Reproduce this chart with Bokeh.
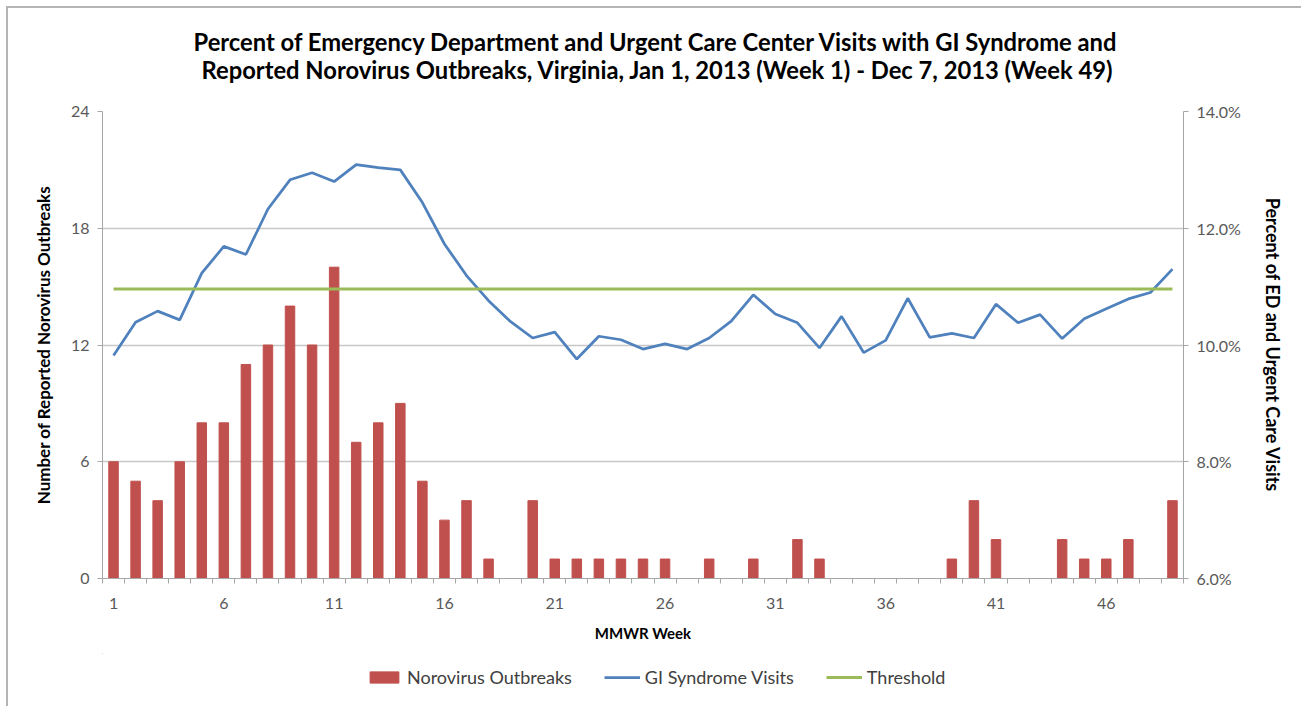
from bokeh.plotting import figure
from bokeh.models import (Range1d, LinearAxis, FixedTicker, PrintfTickFormatter,
                          Legend, LegendItem, Label)
from bokeh.layouts import column
from bokeh.embed import file_html
from bokeh.resources import INLINE

# ---------------- data ----------------
weeks = list(range(1, 50))
outbreaks = [6, 5, 4, 6, 8, 8, 11, 12, 14, 12,
             16, 7, 8, 9, 5, 3, 4, 1, 0, 4,
             1, 1, 1, 1, 1, 1, 0, 1, 0, 1,
             0, 2, 1, 0, 0, 0, 0, 0, 1, 4,
             2, 0, 0, 2, 1, 1, 2, 0, 4]
gi_pct = [9.82, 10.39, 10.58, 10.43, 11.23, 11.69, 11.55, 12.33, 12.83, 12.95,
          12.80, 13.09, 13.04, 13.00, 12.44, 11.73, 11.19, 10.76, 10.40, 10.12,
          10.22, 9.76, 10.15, 10.09, 9.93, 10.02, 9.93, 10.12, 10.41, 10.86,
          10.53, 10.38, 9.95, 10.49, 9.87, 10.08, 10.80, 10.13, 10.20, 10.12,
          10.70, 10.38, 10.52, 10.11, 10.45, 10.62, 10.79, 10.90, 11.30]
threshold_pct = 10.96
x_tick_labels = [1, 6, 11, 16, 21, 26, 31, 36, 41, 46]
left_ticks = [0, 6, 12, 18, 24]
right_ticks = [6, 8, 10, 12, 14]
title_lines = ["Percent of Emergency Department and Urgent Care Center Visits with GI Syndrome and",
               "Reported Norovirus Outbreaks, Virginia, Jan 1, 2013 (Week 1) - Dec 7, 2013 (Week 49)"]
legend_labels = ["Norovirus Outbreaks", "GI Syndrome Visits", "Threshold"]

FONT = "Lato"
RED, BLUE, GREEN = "#C0504D", "#4F81BD", "#9BBB59"
AXIS_C, GRID_C, TXT_C = "#a6a6a6", "#c8c8c8", "#595959"
W = 1293


def blank(height, y0, y1):
    # the column aligns this strip's frame with the chart frame (page x 102..1183)
    f = figure(width=W, height=height, output_backend="svg", toolbar_location=None,
               x_axis_type=None, y_axis_type=None,
               x_range=Range1d(102, 1183), y_range=Range1d(y1, y0),
               min_border_left=0, min_border_right=0, min_border_top=0, min_border_bottom=0)
    f.outline_line_color = None
    f.grid.grid_line_color = None
    f.background_fill_color = "white"
    f.border_fill_color = "white"
    return f


# ---------------- header (title) ----------------
head = blank(90, 8, 98)
for line, tx, ty in zip(title_lines, [193, 201], [41, 69]):
    head.add_layout(Label(x=tx, y=ty, text=line, text_align="left", text_baseline="middle",
                          text_font=FONT, text_font_size="23.75px", text_font_style="bold",
                          text_color="black"))

# ---------------- main chart ----------------
p = figure(width=W, height=555, output_backend="svg", toolbar_location=None,
           x_range=Range1d(0.5, 49.5), y_range=Range1d(0, 24),
           min_border_left=94, min_border_right=118, min_border_top=13,
           min_border_bottom=75)
p.outline_line_color = None
p.background_fill_color = "white"
p.border_fill_color = "white"
p.extra_y_ranges = {"pct": Range1d(6, 14)}

p.vbar(x=weeks, top=outbreaks, width=0.43, fill_color=RED, line_color=RED)
p.line(x=weeks, y=gi_pct, y_range_name="pct", line_color=BLUE, line_width=2.75)
p.line(x=[weeks[0], weeks[-1]], y=[threshold_pct, threshold_pct], y_range_name="pct",
       line_color=GREEN, line_width=3)

xa = p.xaxis[0]
xa.ticker = FixedTicker(ticks=x_tick_labels, minor_ticks=[w - 0.5 for w in weeks] + [weeks[-1] + 0.5])
xa.major_tick_out = 0
xa.major_tick_in = 0
xa.minor_tick_out = 5
xa.minor_tick_in = 0
xa.minor_tick_line_color = AXIS_C
xa.axis_line_color = AXIS_C
xa.major_label_standoff = 14
xa.major_label_text_font = FONT
xa.major_label_text_font_size = "16px"
xa.major_label_text_color = TXT_C
xa.axis_label = "MMWR Week"
xa.axis_label_text_font = FONT
xa.axis_label_text_font_size = "15px"
xa.axis_label_text_font_style = "bold"
xa.axis_label_text_color = "black"
xa.axis_label_standoff = 12

ya = p.yaxis[0]
ya.ticker = FixedTicker(ticks=left_ticks)
ya.minor_tick_out = 0
ya.minor_tick_in = 0
ya.major_tick_out = 5
ya.major_tick_in = 0
ya.major_tick_line_color = AXIS_C
ya.axis_line_color = AXIS_C
ya.major_label_standoff = 8
ya.major_label_text_font = FONT
ya.major_label_text_font_size = "16px"
ya.major_label_text_color = TXT_C
ya.axis_label = "Number of Reported Norovirus Outbreaks"
ya.axis_label_text_font = FONT
ya.axis_label_text_font_size = "17px"
ya.axis_label_text_font_style = "bold"
ya.axis_label_text_color = "black"
ya.axis_label_standoff = 14

ra = LinearAxis(y_range_name="pct", ticker=FixedTicker(ticks=right_ticks),
                formatter=PrintfTickFormatter(format="%.1f%%"))
ra.minor_tick_out = 0
ra.minor_tick_in = 0
ra.major_tick_out = 5
ra.major_tick_in = 0
ra.major_tick_line_color = AXIS_C
ra.axis_line_color = AXIS_C
ra.major_label_standoff = 8
ra.major_label_text_font = FONT
ra.major_label_text_font_size = "16px"
ra.major_label_text_color = TXT_C
ra.axis_label = "Percent of ED and Urgent Care Visits"
ra.axis_label_text_font = FONT
ra.axis_label_text_font_size = "18px"
ra.axis_label_text_font_style = "bold"
ra.axis_label_text_color = "black"
ra.axis_label_standoff = 18
p.add_layout(ra, "right")

p.xgrid.grid_line_color = None
p.ygrid.ticker = FixedTicker(ticks=left_ticks)
p.ygrid.grid_line_color = GRID_C
p.ygrid.grid_line_width = 1.5

# ---------------- legend strip ----------------
# legend-only renderers: their points lie outside this strip's ranges
leg = blank(53, 653, 706)
k_bar = leg.vbar(x=weeks[:1], top=outbreaks[:1], width=0.5, fill_color=RED, line_color=RED)
k_gi = leg.line(x=weeks[:2], y=gi_pct[:2], line_color=BLUE, line_width=2.75)
k_th = leg.line(x=weeks[:2], y=[threshold_pct, threshold_pct], line_color=GREEN, line_width=3)
legend = Legend(items=[LegendItem(label=legend_labels[0], renderers=[k_bar]),
                       LegendItem(label=legend_labels[1], renderers=[k_gi]),
                       LegendItem(label=legend_labels[2], renderers=[k_th])],
                orientation="horizontal", location=(264, 18),
                glyph_width=36, glyph_height=14, label_standoff=5, spacing=32,
                label_text_font=FONT, label_text_font_size="18px", label_text_color="#404040",
                border_line_color=None, background_fill_alpha=0, padding=0, margin=0)
leg.add_layout(legend)

page = column(head, p, leg, spacing=0,
              styles={"margin-left": "6px", "margin-top": "6px",
                      "border-left": "2px solid #b4b4b4", "border-top": "2px solid #b4b4b4"})

open("out.html", "w").write(file_html(page, INLINE))
